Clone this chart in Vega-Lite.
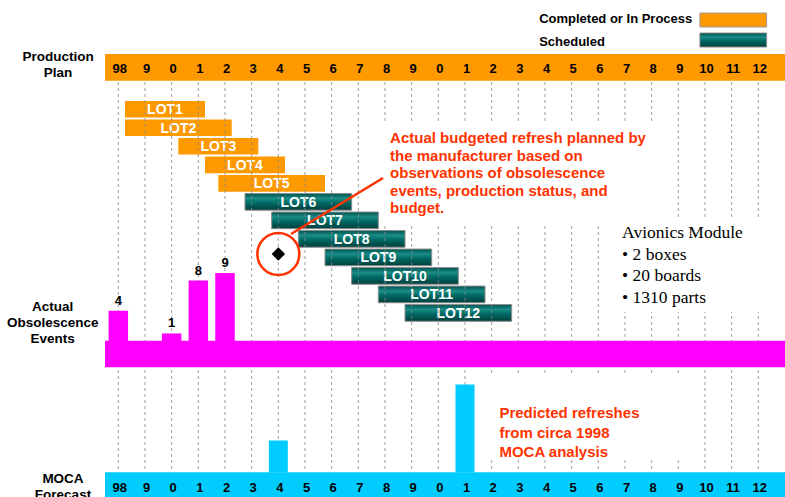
{
  "$schema": "https://vega.github.io/schema/vega-lite/v6.json",
  "width": 785,
  "height": 497,
  "padding": 0,
  "autosize": {"type": "none"},
  "background": "white",
  "config": {"view": {"stroke": null}, "font": "Liberation Sans", "scale": {"continuousPadding": 0}},
  "datasets": {
    "years": [
      {"year": 1998, "label": "98"}, {"year": 1999, "label": "9"}, {"year": 2000, "label": "0"},
      {"year": 2001, "label": "1"}, {"year": 2002, "label": "2"}, {"year": 2003, "label": "3"},
      {"year": 2004, "label": "4"}, {"year": 2005, "label": "5"}, {"year": 2006, "label": "6"},
      {"year": 2007, "label": "7"}, {"year": 2008, "label": "8"}, {"year": 2009, "label": "9"},
      {"year": 2010, "label": "0"}, {"year": 2011, "label": "1"}, {"year": 2012, "label": "2"},
      {"year": 2013, "label": "3"}, {"year": 2014, "label": "4"}, {"year": 2015, "label": "5"},
      {"year": 2016, "label": "6"}, {"year": 2017, "label": "7"}, {"year": 2018, "label": "8"},
      {"year": 2019, "label": "9"}, {"year": 2020, "label": "10"}, {"year": 2021, "label": "11"},
      {"year": 2022, "label": "12"}
    ],
    "lots": [
      {"lot": "LOT1", "start": 1998.25, "end": 2001.25, "status": "Completed or In Process"},
      {"lot": "LOT2", "start": 1998.25, "end": 2002.25, "status": "Completed or In Process"},
      {"lot": "LOT3", "start": 2000.25, "end": 2003.25, "status": "Completed or In Process"},
      {"lot": "LOT4", "start": 2001.25, "end": 2004.25, "status": "Completed or In Process"},
      {"lot": "LOT5", "start": 2001.75, "end": 2005.75, "status": "Completed or In Process"},
      {"lot": "LOT6", "start": 2002.75, "end": 2006.75, "status": "Scheduled"},
      {"lot": "LOT7", "start": 2003.75, "end": 2007.75, "status": "Scheduled"},
      {"lot": "LOT8", "start": 2004.75, "end": 2008.75, "status": "Scheduled"},
      {"lot": "LOT9", "start": 2005.75, "end": 2009.75, "status": "Scheduled"},
      {"lot": "LOT10", "start": 2006.75, "end": 2010.75, "status": "Scheduled"},
      {"lot": "LOT11", "start": 2007.75, "end": 2011.75, "status": "Scheduled"},
      {"lot": "LOT12", "start": 2008.75, "end": 2012.75, "status": "Scheduled"}
    ],
    "obsolescence": [
      {"year": 1998, "count": 4},
      {"year": 2000, "count": 1},
      {"year": 2001, "count": 8},
      {"year": 2002, "count": 9}
    ],
    "moca": [
      {"year": 2004, "refreshes": 1},
      {"year": 2011, "refreshes": 2.75}
    ],
    "bands": [
      {"band": "Production Plan", "from": 1997.5, "to": 2023, "top": 54, "bottom": 80.7},
      {"band": "Actual Obsolescence Events", "from": 1997.5, "to": 2023, "top": 340.7, "bottom": 367.3},
      {"band": "MOCA Forecast", "from": 1997.5, "to": 2023, "top": 472.3, "bottom": 497}
    ],
    "legendKeys": [
      {"status": "Completed or In Process", "from": 2019.81, "to": 2022.31, "top": 13, "bottom": 27},
      {"status": "Scheduled", "from": 2019.81, "to": 2022.31, "top": 33, "bottom": 47}
    ],
    "textBoxes": [
      {"box": "annotation", "from": 2007.9, "to": 2018.4, "top": 122, "bottom": 225},
      {"box": "module", "from": 2016.45, "to": 2023, "top": 218, "bottom": 312},
      {"box": "prediction", "from": 2011.6, "to": 2019.6, "top": 375, "bottom": 458}
    ],
    "texts": [
      {"group": "panel", "text": "Production", "x": 1995.74, "y": 57},
      {"group": "panel", "text": "Plan", "x": 1995.74, "y": 73},
      {"group": "panel", "text": "Actual", "x": 1995.54, "y": 307},
      {"group": "panel", "text": "Obsolescence", "x": 1995.54, "y": 323},
      {"group": "panel", "text": "Events", "x": 1995.54, "y": 339},
      {"group": "panel", "text": "MOCA", "x": 1995.925, "y": 479},
      {"group": "panel", "text": "Forecast", "x": 1995.925, "y": 495},
      {"group": "legend", "text": "Completed or In Process", "x": 2013.78, "y": 19},
      {"group": "legend", "text": "Scheduled", "x": 2013.78, "y": 42},
      {"group": "note", "text": "Actual budgeted refresh planned by", "x": 2008.19, "y": 138.3},
      {"group": "note", "text": "the manufacturer based on", "x": 2008.19, "y": 155.8},
      {"group": "note", "text": "observations of obsolescence", "x": 2008.19, "y": 173.3},
      {"group": "note", "text": "events, production status, and", "x": 2008.19, "y": 190.8},
      {"group": "note", "text": "budget.", "x": 2008.19, "y": 208.3},
      {"group": "note", "text": "Predicted refreshes", "x": 2012.29, "y": 413.3},
      {"group": "note", "text": "from circa 1998", "x": 2012.29, "y": 432.5},
      {"group": "note", "text": "MOCA analysis", "x": 2012.29, "y": 451.5},
      {"group": "module", "text": "Avionics Module", "x": 2016.89, "y": 232.7},
      {"group": "module", "text": "• 2 boxes", "x": 2016.89, "y": 254.5},
      {"group": "module", "text": "• 20 boards", "x": 2016.89, "y": 276},
      {"group": "module", "text": "• 1310 parts", "x": 2016.89, "y": 297.5}
    ],
    "refresh": [
      {"event": "Actual budgeted refresh", "year": 2004, "y": 254}
    ],
    "leader": [
      {"x": 2004.475, "y": 234, "x2": 2007.925, "y2": 178}
    ]
  },
  "layer": [
    {
      "data": {"name": "lots"},
      "encoding": {
        "y": {"field": "lot", "type": "nominal", "axis": null,
          "scale": {"type": "band", "domain": ["LOT1","LOT2","LOT3","LOT4","LOT5","LOT6","LOT7","LOT8","LOT9","LOT10","LOT11","LOT12"], "range": [100, 322.2], "paddingInner": 0.1, "paddingOuter": 0.05}}
      },
      "layer": [
        {
          "transform": [{"filter": "datum.status === 'Completed or In Process'"}],
          "mark": {"type": "bar", "fill": "#FF9900"},
          "encoding": {
            "x": {"field": "start", "type": "quantitative", "axis": null, "scale": {"domain": [1993.5625, 2023], "nice": false, "zero": false, "padding": 0}},
            "x2": {"field": "end"}
          }
        },
        {
          "transform": [{"filter": "datum.status === 'Scheduled'"}],
          "mark": {"type": "bar", "stroke": "#8c8c8c", "strokeWidth": 1,
            "fill": {"gradient": "linear", "x1": 0, "y1": 0, "x2": 0, "y2": 1,
              "stops": [{"offset": 0, "color": "#00524e"}, {"offset": 0.3, "color": "#1b8d86"}, {"offset": 0.55, "color": "#006a65"}, {"offset": 1, "color": "#003f3c"}]}},
          "encoding": {
            "x": {"field": "start", "type": "quantitative", "axis": null, "scale": {"domain": [1993.5625, 2023], "nice": false, "zero": false, "padding": 0}},
            "x2": {"field": "end"}
          }
        },
        {
          "transform": [
            {"fold": ["start", "end"], "as": ["edge", "t"]},
            {"aggregate": [{"op": "mean", "field": "t", "as": "mid"}], "groupby": ["lot"]}
          ],
          "mark": {"type": "text", "color": "white", "fontWeight": "bold", "fontSize": 14, "font": "Liberation Sans", "baseline": "middle", "dy": 1},
          "encoding": {
            "x": {"field": "mid", "type": "quantitative", "axis": null, "scale": {"domain": [1993.5625, 2023], "nice": false, "zero": false, "padding": 0}},
            "text": {"field": "lot"}
          }
        }
      ]
    },
    {
      "layer": [
        {
          "data": {"name": "years"},
          "mark": {"type": "rule", "strokeDash": [3, 3], "color": "#8a8a8a", "strokeWidth": 1, "opacity": 0.8},
          "encoding": {
            "x": {"field": "year", "type": "quantitative", "axis": null, "scale": {"domain": [1993.5625, 2023], "nice": false, "zero": false, "padding": 0}},
            "y": {"datum": 82, "type": "quantitative", "axis": null, "scale": {"domain": [0, 497], "range": [0, 497], "nice": false, "zero": false}},
            "y2": {"datum": 472}
          }
        },
        {
          "data": {"name": "textBoxes"},
          "mark": {"type": "rect", "fill": "white"},
          "encoding": {
            "x": {"field": "from", "type": "quantitative", "axis": null, "scale": {"domain": [1993.5625, 2023], "nice": false, "zero": false, "padding": 0}},
            "x2": {"field": "to"},
            "y": {"field": "top", "type": "quantitative", "axis": null, "scale": {"domain": [0, 497], "range": [0, 497], "nice": false, "zero": false}},
            "y2": {"field": "bottom"}
          }
        }
      ]
    },
    {
      "data": {"name": "obsolescence"},
      "encoding": {
        "x": {"field": "year", "type": "quantitative", "axis": null, "scale": {"domain": [1993.5625, 2023], "nice": false, "zero": false, "padding": 0}},
        "y": {"field": "count", "type": "quantitative", "axis": null, "scale": {"domain": [0, 9], "range": [341, 273], "nice": false, "zero": true}}
      },
      "layer": [
        {"mark": {"type": "bar", "orient": "vertical", "size": 19.5, "color": "#FF00FF"}},
        {"mark": {"type": "text", "dy": -6, "baseline": "alphabetic", "fontWeight": "bold", "fontSize": 13, "font": "Liberation Sans", "color": "black"},
         "encoding": {"text": {"field": "count"}}}
      ]
    },
    {
      "data": {"name": "moca"},
      "mark": {"type": "bar", "orient": "vertical", "size": 19, "color": "#00CCFF"},
      "encoding": {
        "x": {"field": "year", "type": "quantitative", "axis": null, "scale": {"domain": [1993.5625, 2023], "nice": false, "zero": false, "padding": 0}},
        "y": {"field": "refreshes", "type": "quantitative", "axis": null, "scale": {"domain": [0, 3], "range": [472.5, 376.5], "nice": false, "zero": true}}
      }
    },
    {
      "layer": [
        {
          "data": {"name": "bands"},
          "mark": {"type": "rect"},
          "encoding": {
            "x": {"field": "from", "type": "quantitative", "axis": null, "scale": {"domain": [1993.5625, 2023], "nice": false, "zero": false, "padding": 0}},
            "x2": {"field": "to"},
            "y": {"field": "top", "type": "quantitative", "axis": null, "scale": {"domain": [0, 497], "range": [0, 497], "nice": false, "zero": false}},
            "y2": {"field": "bottom"},
            "color": {"field": "band", "type": "nominal", "legend": null,
              "scale": {"domain": ["Production Plan", "Actual Obsolescence Events", "MOCA Forecast"], "range": ["#FF9900", "#FF00FF", "#00CCFF"]}}
          }
        },
        {
          "data": {"name": "legendKeys"},
          "transform": [{"filter": "datum.status === 'Completed or In Process'"}],
          "mark": {"type": "rect", "fill": "#FF9900", "stroke": "#9a9a9a", "strokeWidth": 1},
          "encoding": {
            "x": {"field": "from", "type": "quantitative", "axis": null, "scale": {"domain": [1993.5625, 2023], "nice": false, "zero": false, "padding": 0}},
            "x2": {"field": "to"},
            "y": {"field": "top", "type": "quantitative", "axis": null, "scale": {"domain": [0, 497], "range": [0, 497], "nice": false, "zero": false}},
            "y2": {"field": "bottom"}
          }
        },
        {
          "data": {"name": "legendKeys"},
          "transform": [{"filter": "datum.status === 'Scheduled'"}],
          "mark": {"type": "rect", "stroke": "#8c8c8c", "strokeWidth": 1,
            "fill": {"gradient": "linear", "x1": 0, "y1": 0, "x2": 0, "y2": 1,
              "stops": [{"offset": 0, "color": "#00524e"}, {"offset": 0.3, "color": "#1b8d86"}, {"offset": 0.55, "color": "#006a65"}, {"offset": 1, "color": "#003f3c"}]}},
          "encoding": {
            "x": {"field": "from", "type": "quantitative", "axis": null, "scale": {"domain": [1993.5625, 2023], "nice": false, "zero": false, "padding": 0}},
            "x2": {"field": "to"},
            "y": {"field": "top", "type": "quantitative", "axis": null, "scale": {"domain": [0, 497], "range": [0, 497], "nice": false, "zero": false}},
            "y2": {"field": "bottom"}
          }
        },
        {
          "data": {"name": "years"},
          "mark": {"type": "text", "fontWeight": "bold", "fontSize": 13, "font": "Liberation Sans", "color": "black", "baseline": "middle", "dx": 1.5},
          "encoding": {
            "x": {"field": "year", "type": "quantitative", "axis": null, "scale": {"domain": [1993.5625, 2023], "nice": false, "zero": false, "padding": 0}},
            "y": {"datum": 69, "type": "quantitative", "axis": null, "scale": {"domain": [0, 497], "range": [0, 497], "nice": false, "zero": false}},
            "text": {"field": "label"}
          }
        },
        {
          "data": {"name": "years"},
          "mark": {"type": "text", "fontWeight": "bold", "fontSize": 13, "font": "Liberation Sans", "color": "black", "baseline": "middle", "dx": 1.5},
          "encoding": {
            "x": {"field": "year", "type": "quantitative", "axis": null, "scale": {"domain": [1993.5625, 2023], "nice": false, "zero": false, "padding": 0}},
            "y": {"datum": 488, "type": "quantitative", "axis": null, "scale": {"domain": [0, 497], "range": [0, 497], "nice": false, "zero": false}},
            "text": {"field": "label"}
          }
        },
        {
          "data": {"name": "texts"},
          "transform": [{"filter": "datum.group === 'panel'"}],
          "mark": {"type": "text", "fontWeight": "bold", "fontSize": 13.5, "font": "Liberation Sans", "color": "black", "align": "center", "baseline": "middle"},
          "encoding": {
            "x": {"field": "x", "type": "quantitative", "axis": null, "scale": {"domain": [1993.5625, 2023], "nice": false, "zero": false, "padding": 0}},
            "y": {"field": "y", "type": "quantitative", "axis": null, "scale": {"domain": [0, 497], "range": [0, 497], "nice": false, "zero": false}},
            "text": {"field": "text"}
          }
        },
        {
          "data": {"name": "texts"},
          "transform": [{"filter": "datum.group === 'legend'"}],
          "mark": {"type": "text", "fontWeight": "bold", "fontSize": 13, "font": "Liberation Sans", "color": "black", "align": "left", "baseline": "middle"},
          "encoding": {
            "x": {"field": "x", "type": "quantitative", "axis": null, "scale": {"domain": [1993.5625, 2023], "nice": false, "zero": false, "padding": 0}},
            "y": {"field": "y", "type": "quantitative", "axis": null, "scale": {"domain": [0, 497], "range": [0, 497], "nice": false, "zero": false}},
            "text": {"field": "text"}
          }
        },
        {
          "data": {"name": "texts"},
          "transform": [{"filter": "datum.group === 'note'"}],
          "mark": {"type": "text", "fontWeight": "bold", "fontSize": 15, "font": "Liberation Sans", "color": "#FF3300", "align": "left", "baseline": "middle"},
          "encoding": {
            "x": {"field": "x", "type": "quantitative", "axis": null, "scale": {"domain": [1993.5625, 2023], "nice": false, "zero": false, "padding": 0}},
            "y": {"field": "y", "type": "quantitative", "axis": null, "scale": {"domain": [0, 497], "range": [0, 497], "nice": false, "zero": false}},
            "text": {"field": "text"}
          }
        },
        {
          "data": {"name": "texts"},
          "transform": [{"filter": "datum.group === 'module'"}],
          "mark": {"type": "text", "fontSize": 17.5, "font": "Liberation Serif", "color": "black", "align": "left", "baseline": "middle"},
          "encoding": {
            "x": {"field": "x", "type": "quantitative", "axis": null, "scale": {"domain": [1993.5625, 2023], "nice": false, "zero": false, "padding": 0}},
            "y": {"field": "y", "type": "quantitative", "axis": null, "scale": {"domain": [0, 497], "range": [0, 497], "nice": false, "zero": false}},
            "text": {"field": "text"}
          }
        },
        {
          "data": {"name": "leader"},
          "mark": {"type": "rule", "color": "#FF3300", "strokeWidth": 2.5},
          "encoding": {
            "x": {"field": "x", "type": "quantitative", "axis": null, "scale": {"domain": [1993.5625, 2023], "nice": false, "zero": false, "padding": 0}},
            "x2": {"field": "x2"},
            "y": {"field": "y", "type": "quantitative", "axis": null, "scale": {"domain": [0, 497], "range": [0, 497], "nice": false, "zero": false}},
            "y2": {"field": "y2"}
          }
        },
        {
          "data": {"name": "refresh"},
          "mark": {"type": "point", "shape": "circle", "filled": false, "stroke": "#FF3300", "strokeWidth": 2.5, "size": 1764, "opacity": 1},
          "encoding": {
            "x": {"field": "year", "type": "quantitative", "axis": null, "scale": {"domain": [1993.5625, 2023], "nice": false, "zero": false, "padding": 0}},
            "y": {"field": "y", "type": "quantitative", "axis": null, "scale": {"domain": [0, 497], "range": [0, 497], "nice": false, "zero": false}}
          }
        },
        {
          "data": {"name": "refresh"},
          "mark": {"type": "point", "shape": "diamond", "filled": true, "color": "black", "size": 180, "opacity": 1},
          "encoding": {
            "x": {"field": "year", "type": "quantitative", "axis": null, "scale": {"domain": [1993.5625, 2023], "nice": false, "zero": false, "padding": 0}},
            "y": {"field": "y", "type": "quantitative", "axis": null, "scale": {"domain": [0, 497], "range": [0, 497], "nice": false, "zero": false}}
          }
        }
      ]
    }
  ],
  "resolve": {"scale": {"y": "independent", "color": "independent"}}
}
